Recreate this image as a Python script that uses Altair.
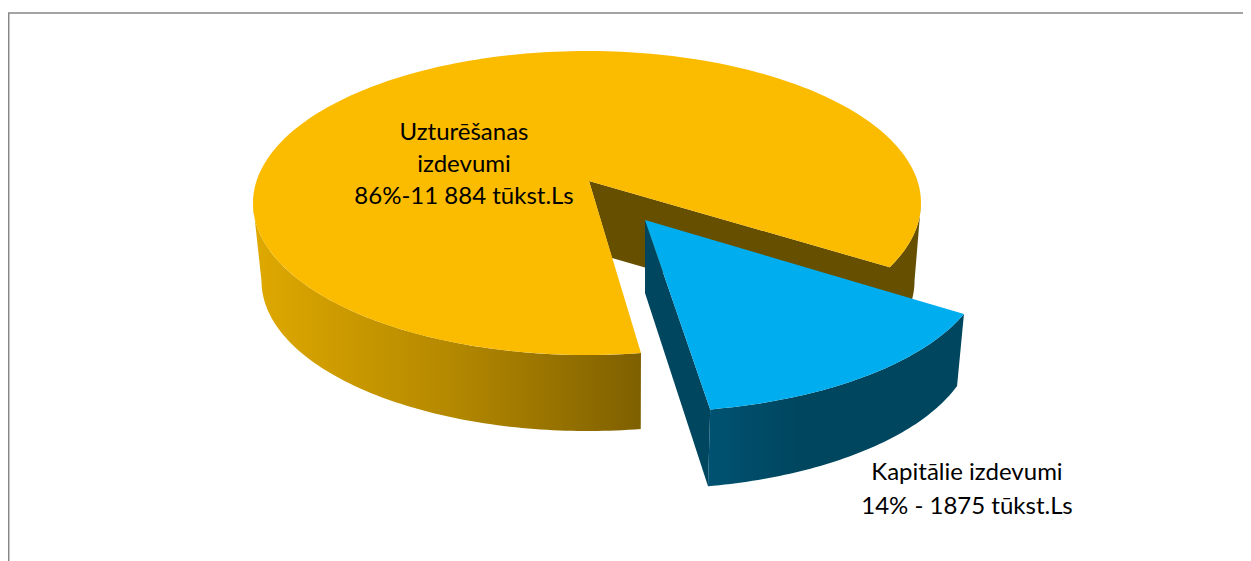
import math
import altair as alt
import pandas as pd

# Values from the chart
categories = ["Uzturēšanas izdevumi", "Kapitālie izdevumi"]
shares = [86, 14]
amounts = ["11 884", "1875"]
label_lines_main = ["Uzturēšanas", "izdevumi", "86%-11 884 tūkst.Ls"]
label_lines_cap = ["Kapitālie izdevumi", "14% - 1875 tūkst.Ls"]

W, H = 1235, 553
x_scale = alt.Scale(domain=[8, 8 + W], range=[0, W], nice=False, zero=False)
y_scale = alt.Scale(domain=[8, 8 + H], range=[0, H], nice=False, zero=False)


def arc(ell, t0, t1, n=90):
    cx, cy, rx, ry = ell
    out = []
    for i in range(n + 1):
        t = math.radians(t0 + (t1 - t0) * i / n)
        out.append((cx + rx * math.cos(t), cy + ry * math.sin(t)))
    return out


def poly(points, fill):
    df = pd.DataFrame(points, columns=["x", "y"])
    df["o"] = range(len(df))
    return (
        alt.Chart(df)
        .mark_line(filled=True, fill=fill, stroke=None, strokeWidth=0, interpolate="linear", clip=True)
        .encode(
            x=alt.X("x:Q", scale=x_scale, axis=None),
            y=alt.Y("y:Q", scale=y_scale, axis=None),
            order="o:Q",
        )
    )


def grad(stops):
    return alt.Gradient(
        gradient="linear", x1=0, x2=1, y1=0, y2=0,
        stops=[alt.GradientStop(offset=o, color=c) for o, c in stops],
    )


MAIN_TOP = (587, 203, 334, 152)
MAIN_LOW = (588, 281, 326.5, 150)
BLUE_TOP = (648, 260, 338, 152)
BLUE_LOW = (646, 338, 328, 151)
apex_main = (589, 181)
apex_main_low = (612, 258)
apex_blue = (645, 220)
apex_blue_low = (645, 293)

YELLOW = "#FBBC00"
BROWN = "#674F00"
BLUE = "#00AEEF"
BLUE_DK = "#00465F"

layers = [
    # inner cut wall of the big slice
    poly([apex_main] + arc(MAIN_TOP, 25, 25, 1)[:1] + [(915, 345), apex_main_low], BROWN),
    # right stub of the rim
    poly(arc(MAIN_TOP, 25, 0, 30) + arc(MAIN_LOW, 0, 20, 30), BROWN),
    # outer rim of the big slice
    poly(arc(MAIN_TOP, 80.7, 180) + arc(MAIN_LOW, 180, 80.7),
         grad([(0, "#DFA900"), (0.5, "#B58900"), (1, "#7F6000")])),
    # top of the big slice
    poly([apex_main] + arc(MAIN_TOP, 25, -279.3, 240), YELLOW),
    # blue slice: cut wall, rim, top
    poly([apex_blue, apex_blue_low, arc(BLUE_LOW, 79.1, 79.1, 1)[0], arc(BLUE_TOP, 79.4, 79.4, 1)[0]], BLUE_DK),
    poly(arc(BLUE_TOP, 79.4, 20.8, 60) + arc(BLUE_LOW, 18.5, 79.1, 60),
         grad([(0, "#005272"), (0.35, BLUE_DK), (1, BLUE_DK)])),
    poly([apex_blue] + arc(BLUE_TOP, 20.8, 79.4, 60), BLUE),
]

# frame
frame_h = alt.Chart(pd.DataFrame({"x": [8], "x2": [1243], "y": [13]})).mark_rule(
    color="#868686", strokeWidth=1.5
).encode(x=alt.X("x:Q", scale=x_scale, axis=None), x2="x2:Q", y=alt.Y("y:Q", scale=y_scale, axis=None))
frame_v = alt.Chart(pd.DataFrame({"x": [8.7], "y": [13], "y2": [561]})).mark_rule(
    color="#868686", strokeWidth=1.5
).encode(x=alt.X("x:Q", scale=x_scale, axis=None), y=alt.Y("y:Q", scale=y_scale, axis=None), y2="y2:Q")

labels = pd.DataFrame({
    "t": label_lines_main + label_lines_cap,
    "x": [464, 464, 464, 967, 967],
    "y": [133, 165, 197, 473, 507],
})
text = alt.Chart(labels).mark_text(font="Lato", fontSize=24, color="#000000", align="center", baseline="middle").encode(
    x=alt.X("x:Q", scale=x_scale, axis=None),
    y=alt.Y("y:Q", scale=y_scale, axis=None),
    text="t:N",
)

chart = (
    alt.layer(frame_h, frame_v, *layers, text)
    .properties(width=W, height=H, padding=0, autosize=alt.AutoSizeParams(type="none"), background="#FFFFFF")
    .configure_view(stroke=None)
)
chart.save("out.html", embed_options={"renderer": "svg", "actions": False})
